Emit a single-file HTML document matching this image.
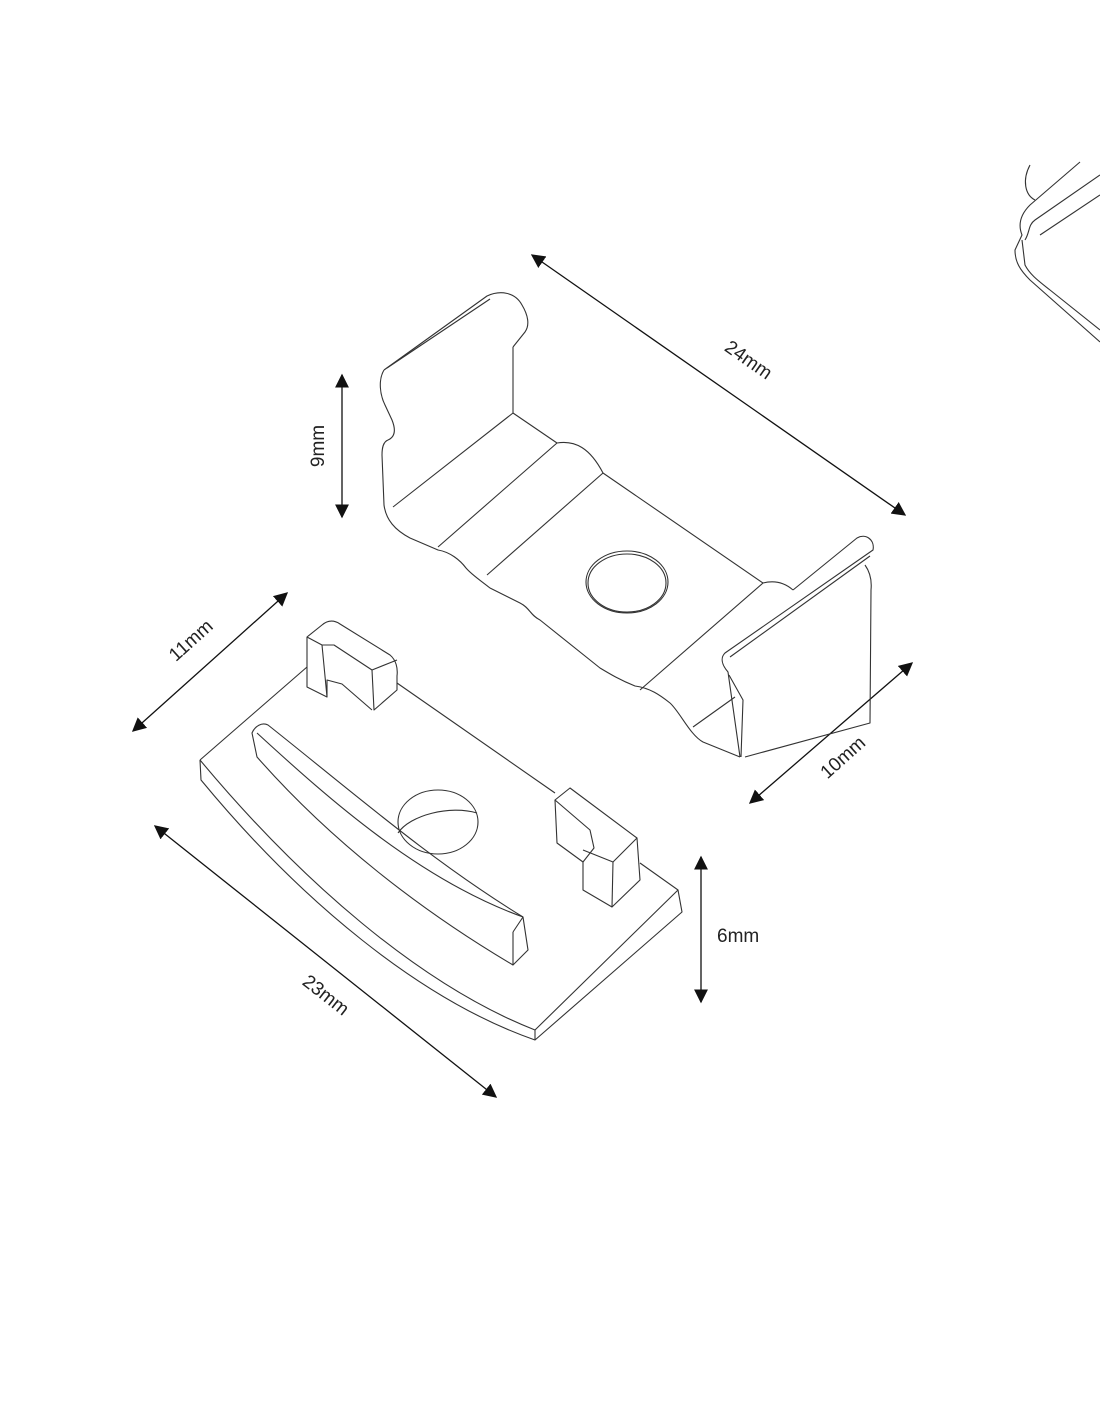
<!DOCTYPE html>
<html><head><meta charset="utf-8"><style>
html,body{margin:0;padding:0;background:#fff;}
svg{display:block}
text{font-family:"Liberation Sans",sans-serif;font-size:19px;fill:#222}
</style></head><body>
<svg width="1100" height="1422" viewBox="0 0 1100 1422" xmlns="http://www.w3.org/2000/svg">
<defs>
<marker id="a" viewBox="0 0 10 10" refX="9" refY="5" markerWidth="14" markerHeight="14" markerUnits="userSpaceOnUse" orient="auto-start-reverse"><path d="M0,0L10,5L0,10z" fill="#111"/></marker>
</defs>
<g stroke="#111" stroke-width="1.3" fill="none">
<line x1="532" y1="255" x2="905" y2="515" marker-start="url(#a)" marker-end="url(#a)"/>
<line x1="342" y1="375" x2="342" y2="517" marker-start="url(#a)" marker-end="url(#a)"/>
<line x1="287" y1="593" x2="133" y2="731" marker-start="url(#a)" marker-end="url(#a)"/>
<line x1="912" y1="663" x2="750" y2="803" marker-start="url(#a)" marker-end="url(#a)"/>
<line x1="155" y1="826" x2="496" y2="1097" marker-start="url(#a)" marker-end="url(#a)"/>
<line x1="701" y1="857" x2="701" y2="1002" marker-start="url(#a)" marker-end="url(#a)"/>
</g>
<g stroke="#333" stroke-width="1.1" fill="none" stroke-linejoin="round">
<path d="M384,370 C378,380 380,395 385,405 L392,420 C396,430 395,437 388,440 C383,442 382,448 382,455 L384,505 C386,520 395,530 410,538 L438,550 C450,552 460,560 466,568 C472,575 480,580 490,588 L520,603 C530,608 530,615 540,620 L600,668 C610,674 620,680 635,686 C650,688 660,695 670,703 C680,712 690,735 703,742 L740,757"/>
<path d="M384,370 L487,296 C500,290 515,292 522,305 C528,315 530,325 525,332 L513,347"/>
<path d="M387,368 L490,299"/>
<line x1="513" y1="347" x2="513" y2="413"/>
<path d="M513,413 L557,443 C575,440 590,448 603,473 L763,583 C775,580 785,583 793,590"/>
<line x1="393" y1="507" x2="513" y2="413"/>
<line x1="438" y1="547" x2="557" y2="443"/>
<line x1="487" y1="575" x2="603" y2="473"/>
<line x1="640" y1="690" x2="763" y2="583"/>
<line x1="693" y1="727" x2="735" y2="697"/>
<path d="M793,590 L857,538 C866,533 875,540 873,550 L725,653 C720,658 722,665 728,672 L740,757"/>
<path d="M870,556 L730,657"/>
<path d="M865,565 C870,572 872,580 871,590 L870,723 L745,757"/>
<path d="M729,675 L743,700 L741,757"/>
<ellipse cx="627" cy="582" rx="41" ry="31"/>
<ellipse cx="627" cy="583" rx="39" ry="29"/>
<path d="M200,760 L307,667"/>
<path d="M397,683 L555,793"/>
<path d="M640,863 L678,890 L535,1030"/>
<path d="M200,760 C300,880 420,985 535,1030"/>
<path d="M200,760 L201,780 C300,900 420,1000 535,1040 L682,912 L678,890"/>
<line x1="535" y1="1030" x2="535" y2="1040"/>
<path d="M252,733 C255,726 262,722 268,725 C350,790 430,860 523,917 L528,950 L513,965 C420,910 330,840 257,757 Z"/>
<path d="M257,733 C330,800 420,880 523,917"/>
<line x1="513" y1="932" x2="513" y2="965"/>
<line x1="513" y1="932" x2="523" y2="917"/>
<ellipse cx="438" cy="822" rx="40" ry="32"/>
<path d="M398,833 C410,815 450,805 477,813"/>
<path d="M307,637 L322,625 C328,620 334,620 340,624 L390,655 C396,660 398,668 397,676 L397,690 L374,710 L372,670 L334,645 L322,645 Z"/>
<path d="M307,637 L307,687 L327,697 L327,680 L342,684 L372,710"/>
<line x1="322" y1="645" x2="327" y2="697"/>
<line x1="372" y1="670" x2="397" y2="660"/>
<path d="M555,800 L570,788 L637,838 L640,880 L612,907 L583,890 L583,862 L594,848 L590,830 L555,800 Z"/>
<path d="M555,800 L557,843 L583,862"/>
<path d="M583,850 L613,862 L637,838"/>
<line x1="613" y1="862" x2="612" y2="907"/>
<path d="M1080,162 L1030,205 C1020,215 1018,225 1022,235 L1015,250 C1015,262 1020,270 1030,280 L1100,342"/>
<path d="M1030,165 C1022,180 1025,195 1035,200"/>
<path d="M1100,175 L1035,220 C1028,225 1030,232 1025,240"/>
<path d="M1100,195 L1040,235"/>
<path d="M1022,240 L1025,265 C1030,275 1040,282 1050,290 L1100,330"/>
</g>
<g>
<text x="745" y="365" text-anchor="middle" transform="rotate(35 745 365)">24mm</text>
<text x="318" y="446" text-anchor="middle" transform="rotate(-90 318 446)" dy="6">9mm</text>
<text x="195" y="645" text-anchor="middle" transform="rotate(-42 195 645)">11mm</text>
<text x="847" y="762" text-anchor="middle" transform="rotate(-42 847 762)">10mm</text>
<text x="322" y="1000" text-anchor="middle" transform="rotate(38 322 1000)">23mm</text>
<text x="717" y="942">6mm</text>
</g>
</svg>
</body></html>
